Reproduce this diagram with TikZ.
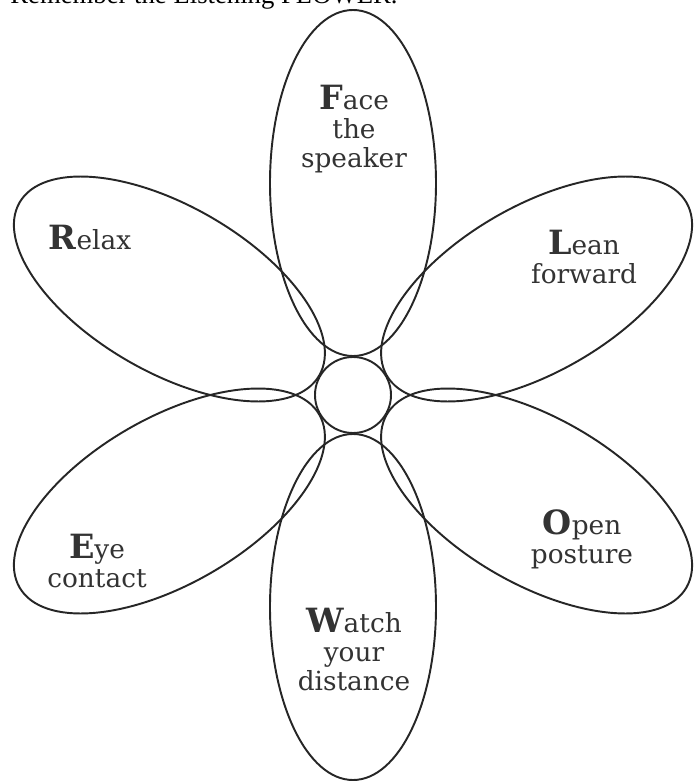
\documentclass[tikz,border=0pt]{standalone}
\usepackage{fontspec}
\setmainfont{DejaVu Serif}
\newfontfamily\timesfont{Liberation Serif}
\usepackage{tikz}
\usetikzlibrary{positioning}

\newcommand{\petalfont}{\fontsize{15}{16.5}\selectfont}
\newcommand{\titlefont}{\timesfont\fontsize{15.2}{18}\selectfont}
\newcommand{\initial}[1]{{\fontsize{19}{16.5}\selectfont\bfseries #1}}

\begin{document}
\begin{tikzpicture}[
  petal/.style={draw=black!85, line width=1.1pt},
  lbl/.style={anchor=base, align=center, inner sep=0pt, font=\petalfont, text=black!80}
]
  \clip (-7.06,-7.74) rectangle (6.84,7.9);
  \node[anchor=base west, inner sep=0pt, font=\titlefont] (title) at (-6.86,7.82) {Remember the Listening FLOWER.};
  % petals, one every 60 degrees
  \foreach \a in {0,60,...,300}
    \draw[petal, rotate=\a] (0,4.24) ellipse (1.66 and 3.46);
  \node[petal, circle, minimum size=1.52cm, inner sep=0pt] (core) at (0,0) {};
  % labels (base = last line)
  \node[lbl] (face)  at (0.02,4.56)  {\initial{F}ace\\the\\speaker};
  \node[lbl] (lean)  at (4.62,2.24)  {\initial{L}ean\\forward};
  \node[lbl] (open)  at (4.58,-3.36) {\initial{O}pen\\posture};
  \node[lbl] (watch) at (0.02,-5.90) {\initial{W}atch\\your\\distance};
  \node[lbl] (eye)   at (-5.12,-3.84) {\initial{E}ye\\contact};
  \node[lbl] (relax) at (-5.26,2.92) {\initial{R}elax};
\end{tikzpicture}
\end{document}
